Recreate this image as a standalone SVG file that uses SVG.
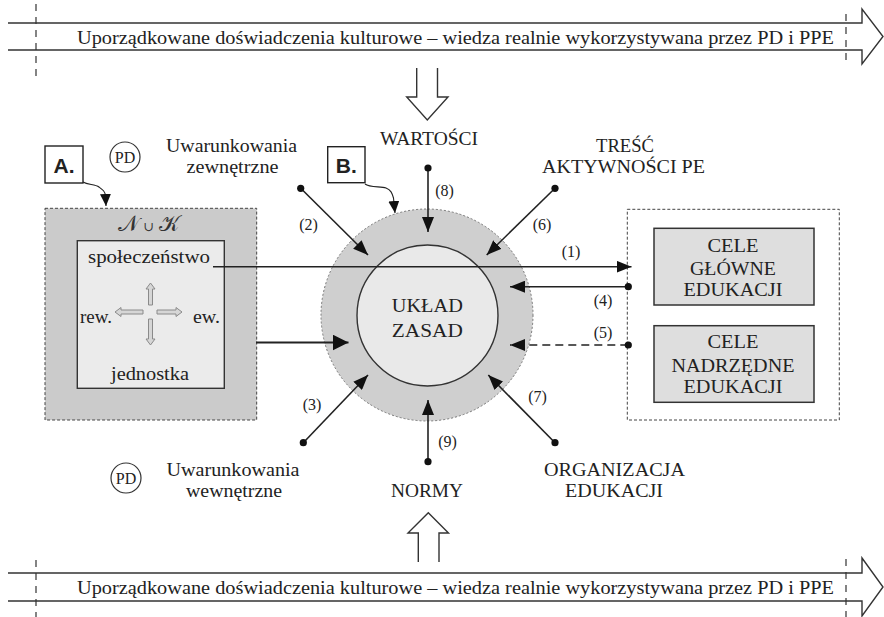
<svg xmlns="http://www.w3.org/2000/svg" width="884" height="617" viewBox="0 0 884 617">
<style>
.t{font-family:"Liberation Serif","Times New Roman",serif;font-size:18px;fill:#222;text-anchor:middle}
.n{font-family:"Liberation Serif","Times New Roman",serif;font-size:16px;fill:#222;text-anchor:middle}
.band{fill:none;stroke:#333;stroke-width:1.4}
.vdash{stroke:#333;stroke-width:1.2;stroke-dasharray:7 6}
.ln{stroke:#222;stroke-width:1.6;fill:none}
.dot{fill:#111}
.lab{font-family:"Liberation Sans",Arial,sans-serif;font-weight:bold;font-size:21px;fill:#222;text-anchor:middle}
.cross{fill:#d6d6d6;stroke:#8a8a8a;stroke-width:1}
</style>
<defs>
<marker id="ah" markerUnits="userSpaceOnUse" markerWidth="16" markerHeight="12" refX="15" refY="6" orient="auto"><path d="M0,0 L15,6 L0,12 z" fill="#111"/></marker>
<marker id="ahb" markerUnits="userSpaceOnUse" markerWidth="17" markerHeight="16" refX="16" refY="8" orient="auto"><path d="M0,0 L16,8 L0,16 z" fill="#111"/></marker>
<marker id="ahs" markerUnits="userSpaceOnUse" markerWidth="13" markerHeight="11" refX="12" refY="5.5" orient="auto"><path d="M0,0 L12,5.5 L0,11 z" fill="#111"/></marker>
</defs>
<rect width="884" height="617" fill="#fff"/>

<g id="band-top">
<path class="band" d="M8,23 H862 V9 L883,36.5 L862,64 V50 H8"/>
<line class="vdash" x1="36" y1="4" x2="36" y2="78"/>
<line class="vdash" x1="846" y1="14" x2="846" y2="64"/>
<text class="t" x="77" y="44" style="text-anchor:start" textLength="757" lengthAdjust="spacingAndGlyphs">Uporządkowane doświadczenia kulturowe – wiedza realnie wykorzystywana przez PD i PPE</text>
</g>

<g id="band-bottom">
<path class="band" d="M8,573 H862 V558 L883,587 L862,616 V601 H8"/>
<line class="vdash" x1="36" y1="560" x2="36" y2="617"/>
<line class="vdash" x1="846" y1="559" x2="846" y2="617"/>
<text class="t" x="77" y="594" style="text-anchor:start" textLength="757" lengthAdjust="spacingAndGlyphs">Uporządkowane doświadczenia kulturowe – wiedza realnie wykorzystywana przez PD i PPE</text>
</g>

<g id="arrow-down">
<path class="band" d="M416.7,68 V97 H406.7 L427.3,120 L448,97 H437.5 V68"/>
</g>
<g id="arrow-up">
<path class="band" d="M418.3,562 V533 H408 L428.3,512.7 L448.5,533 H439 V562"/>
</g>

<g id="node-A-label">
<rect x="45" y="146" width="38" height="37" fill="#fff" stroke="#222" stroke-width="1.4"/>
<text class="lab" x="64" y="172.5">A.</text>
</g>

<g id="node-NK">
<rect x="45" y="208.3" width="211.7" height="211.7" fill="#cbcbcb" stroke="#444" stroke-width="1" stroke-dasharray="3 2"/>
<rect x="77.3" y="240.7" width="147" height="147.6" fill="#ebebeb" stroke="#333" stroke-width="1.4"/>
<text x="148.5" y="231" style="font-family:'DejaVu Serif','DejaVu Sans',serif;font-size:22px;fill:#333;text-anchor:middle">𝒩<tspan style="font-size:13px"> ∪ </tspan>𝒦</text>
<text class="t" x="149" y="263" textLength="122" lengthAdjust="spacingAndGlyphs">społeczeństwo</text>
<text class="t" x="150" y="380" textLength="78" lengthAdjust="spacingAndGlyphs">jednostka</text>
<text class="t" x="96" y="323" textLength="32" lengthAdjust="spacingAndGlyphs">rew.</text>
<text class="t" x="206.5" y="323" textLength="27" lengthAdjust="spacingAndGlyphs">ew.</text>
<path class="cross" d="M143,310 H121 V307.5 L115,312 L121,316.5 V314 H143 z"/>
<path class="cross" d="M157,310 H176 V307.5 L182,312 L176,316.5 V314 H157 z"/>
<path class="cross" d="M148.5,305 V289 H146 L150.5,283 L155,289 H152.5 V305 z"/>
<path class="cross" d="M148.5,319 V339 H146 L150.5,345 L155,339 H152.5 V319 z"/>
</g>

<g id="node-PD-top">
<circle cx="125" cy="157" r="15" fill="#fff" stroke="#333" stroke-width="1.2"/>
<text class="n" x="125" y="162.5">PD</text>
</g>
<g id="node-uw-zew">
<text class="t" x="231.5" y="152" textLength="131" lengthAdjust="spacingAndGlyphs">Uwarunkowania</text>
<text class="t" x="232.5" y="173" textLength="92" lengthAdjust="spacingAndGlyphs">zewnętrzne</text>
</g>

<g id="node-PD-bottom">
<circle cx="126" cy="478" r="15" fill="#fff" stroke="#333" stroke-width="1.2"/>
<text class="n" x="126" y="483.5">PD</text>
</g>
<g id="node-uw-wew">
<text class="t" x="233" y="476" textLength="133" lengthAdjust="spacingAndGlyphs">Uwarunkowania</text>
<text class="t" x="234" y="497" textLength="96" lengthAdjust="spacingAndGlyphs">wewnętrzne</text>
</g>

<g id="node-B-label">
<rect x="327.7" y="146.7" width="37.3" height="36" fill="#fff" stroke="#222" stroke-width="1.4"/>
<text class="lab" x="346.3" y="172.5">B.</text>
</g>

<g id="node-wartosci">
<text class="t" x="429" y="145" textLength="98" lengthAdjust="spacingAndGlyphs">WARTOŚCI</text>
</g>
<g id="node-tresc">
<text class="t" x="625" y="152" textLength="58" lengthAdjust="spacingAndGlyphs">TREŚĆ</text>
<text class="t" x="623.5" y="173" textLength="163" lengthAdjust="spacingAndGlyphs">AKTYWNOŚCI PE</text>
</g>
<g id="node-normy">
<text class="t" x="427" y="497" textLength="72" lengthAdjust="spacingAndGlyphs">NORMY</text>
</g>
<g id="node-organizacja">
<text class="t" x="614.5" y="476" textLength="141" lengthAdjust="spacingAndGlyphs">ORGANIZACJA</text>
<text class="t" x="614" y="497" textLength="98" lengthAdjust="spacingAndGlyphs">EDUKACJI</text>
</g>

<g id="node-uklad">
<circle cx="427" cy="315" r="106" fill="#cfcfcf" stroke="#777" stroke-width="1" stroke-dasharray="2 2"/>
<circle cx="427.5" cy="315.5" r="70.5" fill="#e9e9e9" stroke="#333" stroke-width="1.4"/>
<text class="t" x="427.3" y="312" textLength="71" lengthAdjust="spacingAndGlyphs">UKŁAD</text>
<text class="t" x="427.3" y="337" textLength="71" lengthAdjust="spacingAndGlyphs">ZASAD</text>
</g>

<g id="node-cele">
<rect x="627.3" y="209.3" width="212" height="210.7" fill="#fff" stroke="#444" stroke-width="1" stroke-dasharray="3 2"/>
<rect x="654" y="228.3" width="160" height="76.7" fill="#dedede" stroke="#333" stroke-width="1.5"/>
<text class="t" x="733" y="251.7" textLength="51" lengthAdjust="spacingAndGlyphs">CELE</text>
<text class="t" x="733" y="275" textLength="86" lengthAdjust="spacingAndGlyphs">GŁÓWNE</text>
<text class="t" x="733" y="296" textLength="99" lengthAdjust="spacingAndGlyphs">EDUKACJI</text>
<rect x="654" y="325.7" width="160" height="76.6" fill="#dedede" stroke="#333" stroke-width="1.5"/>
<text class="t" x="733" y="348.3" textLength="51" lengthAdjust="spacingAndGlyphs">CELE</text>
<text class="t" x="733" y="371.7" textLength="123" lengthAdjust="spacingAndGlyphs">NADRZĘDNE</text>
<text class="t" x="733" y="392.7" textLength="99" lengthAdjust="spacingAndGlyphs">EDUKACJI</text>
</g>

<g id="connectors">
<path class="ln" d="M83,182 C88,185 95,184 99,187 S104.5,191 105.5,195 L106,206" marker-end="url(#ahs)" style="stroke-width:1.1"/>
<path class="ln" d="M365,184 C370,188 381,186 386,188 S392,193 393.5,198 L395,213" marker-end="url(#ahs)" style="stroke-width:1.1"/>
<line class="ln" x1="213" y1="266.7" x2="631.5" y2="266.7" marker-end="url(#ah)"/>
<line class="ln" x1="256" y1="342.5" x2="348.5" y2="342.5" marker-end="url(#ahb)" style="stroke-width:2"/>
<line class="ln" x1="628.3" y1="286.7" x2="510" y2="286.7" marker-end="url(#ah)"/>
<line class="ln" x1="628.3" y1="345" x2="510" y2="345" marker-end="url(#ah)" stroke-dasharray="8 5"/>
<line class="ln" x1="300.7" y1="188.3" x2="368" y2="255" marker-end="url(#ah)"/>
<line class="ln" x1="555" y1="188.3" x2="486.7" y2="255" marker-end="url(#ah)"/>
<line class="ln" x1="303.3" y1="442.7" x2="368" y2="375" marker-end="url(#ah)"/>
<line class="ln" x1="555" y1="442.7" x2="488.3" y2="375" marker-end="url(#ah)"/>
<line class="ln" x1="428" y1="168" x2="428" y2="232" marker-end="url(#ah)"/>
<line class="ln" x1="428" y1="461.7" x2="428" y2="400" marker-end="url(#ah)"/>
<circle class="dot" cx="300.7" cy="188.3" r="3.6"/>
<circle class="dot" cx="555" cy="188.3" r="3.6"/>
<circle class="dot" cx="303.3" cy="442.7" r="3.6"/>
<circle class="dot" cx="555" cy="442.7" r="3.6"/>
<circle class="dot" cx="428" cy="168" r="3.6"/>
<circle class="dot" cx="428" cy="461.7" r="3.6"/>
<circle class="dot" cx="628.3" cy="286.7" r="3.6"/>
<circle class="dot" cx="628.3" cy="345" r="3.6"/>
<text class="n" x="571" y="257">(1)</text>
<text class="n" x="308.5" y="229.5">(2)</text>
<text class="n" x="312" y="410">(3)</text>
<text class="n" x="603" y="306">(4)</text>
<text class="n" x="603" y="338">(5)</text>
<text class="n" x="542" y="229.5">(6)</text>
<text class="n" x="537.5" y="401.5">(7)</text>
<text class="n" x="444.5" y="196">(8)</text>
<text class="n" x="447.5" y="446.5">(9)</text>
</g>
</svg>
